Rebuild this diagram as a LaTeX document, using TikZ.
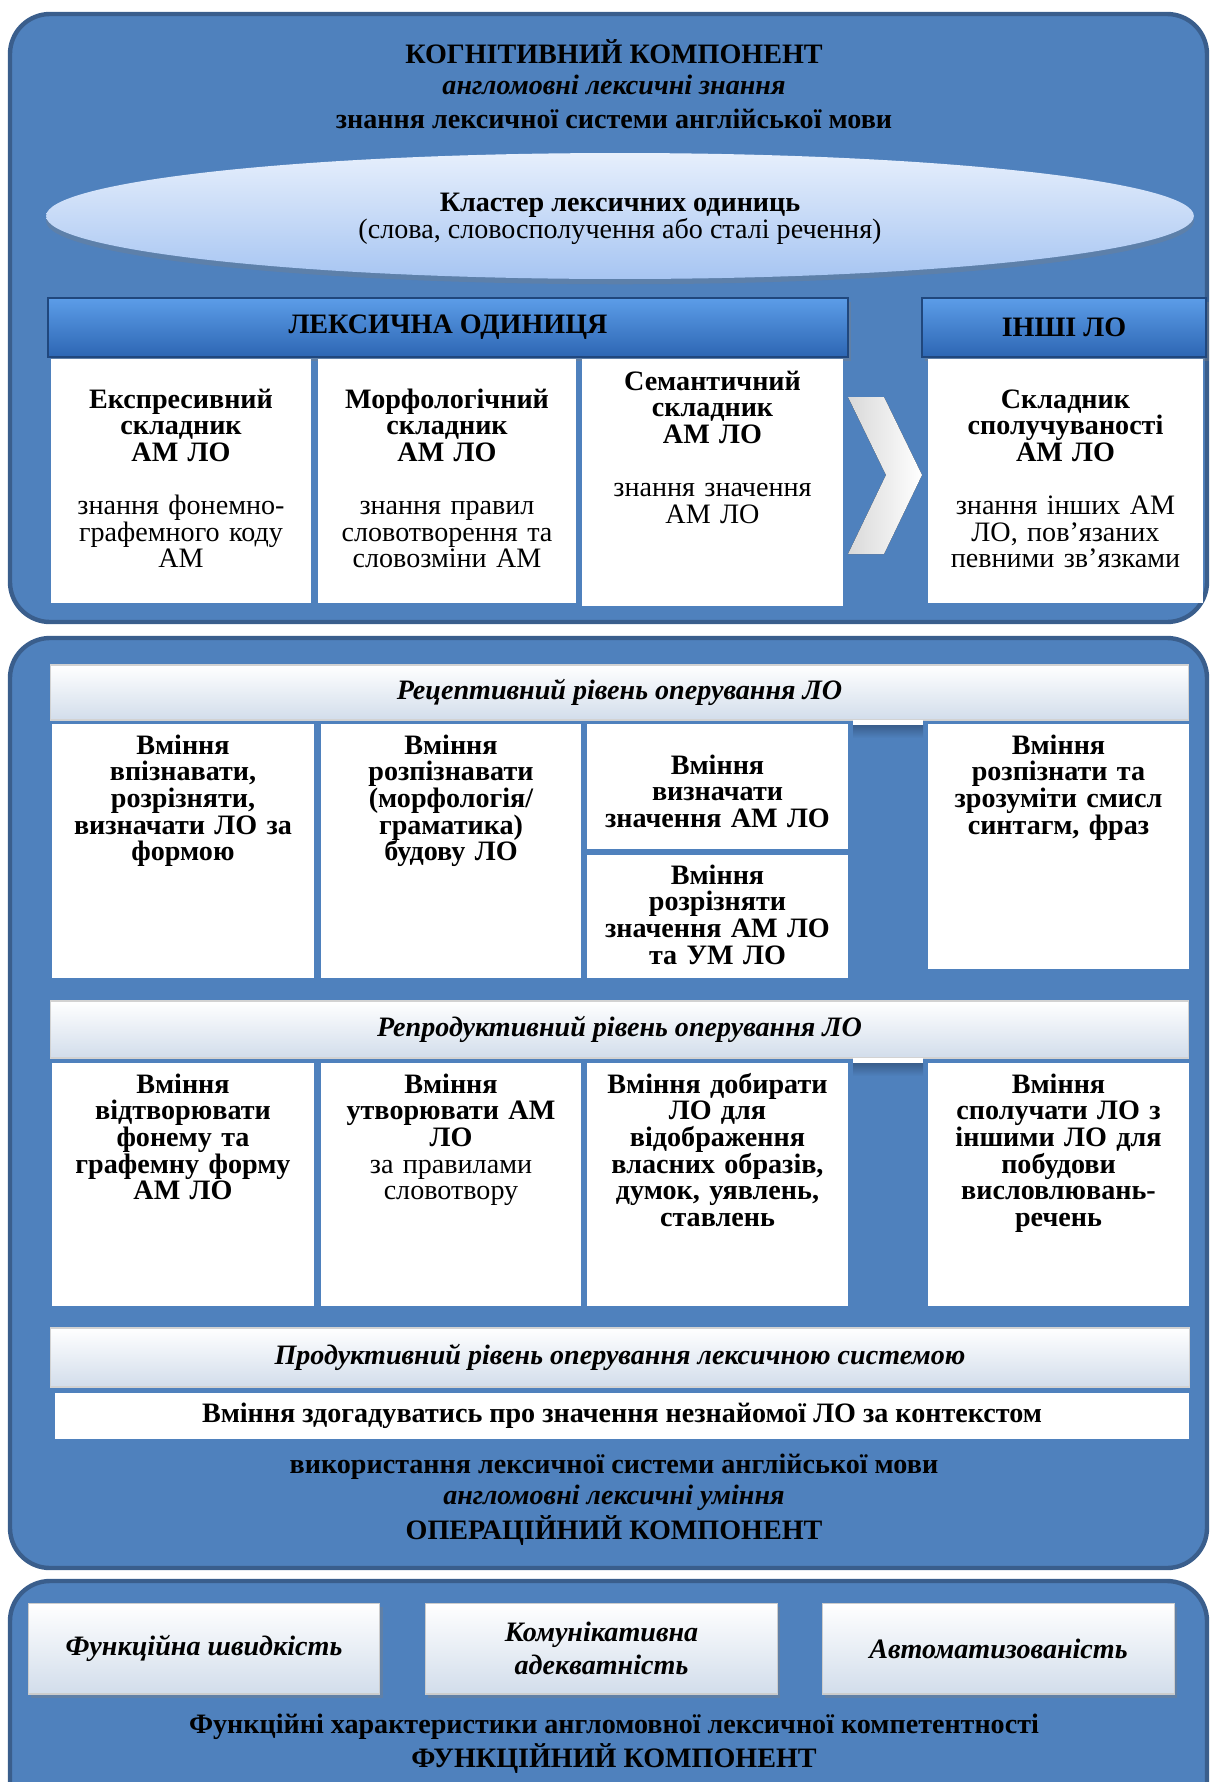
\documentclass[tikz,border=0pt]{standalone}
\usepackage{fontspec}
\setmainfont{Liberation Serif}
\usetikzlibrary{positioning,shapes.geometric,shadows}

\definecolor{panelblue}{HTML}{4F81BD}
\definecolor{paneledge}{HTML}{3A5E8C}
\definecolor{headtop}{HTML}{5C9DE8}
\definecolor{headbot}{HTML}{2D66B3}
\definecolor{barbot}{HTML}{D2DDEB}
\definecolor{elltop}{HTML}{E6EFFC}
\definecolor{ellbot}{HTML}{A7C5F2}
\newcommand{\bodysize}{\fontsize{16pt}{15.2pt}\selectfont}

\begin{document}
\begin{tikzpicture}[x=0.02cm,y=-0.02cm,
  panel/.style={fill=panelblue,draw=paneledge,line width=2.5pt,rounded corners=0.8cm},
  head/.style={draw=headbot!70!black,line width=0.8pt,top color=headtop,bottom color=headbot,
    font=\bodysize\bfseries,drop shadow={opacity=0.35,shadow xshift=1.5pt,shadow yshift=-2pt}},
  lightbar/.style={draw=gray!35,line width=0.6pt,top color=white,bottom color=barbot,
    font=\bodysize\bfseries\itshape,minimum width=22.78cm},
  cell/.style={fill=white,inner sep=0pt},
  celltext/.style={text width=5.4cm,align=center,inner sep=0pt,anchor=base,font=\bodysize\bfseries},
  caption/.style={font=\bodysize\bfseries,inner sep=0pt},
  feature/.style={draw=gray!40,line width=0.6pt,top color=white,bottom color=barbot,
    minimum width=7.04cm,minimum height=1.82cm,align=center,font=\bodysize\bfseries\itshape,
    drop shadow={opacity=0.35,shadow xshift=1.5pt,shadow yshift=-2pt}}]
\useasboundingbox (0,0) rectangle (1213,1782);
\clip (0,0) rectangle (1213,1782);

% panels
\draw[panel] (10,14) rectangle (1207,622);
\draw[panel] (10,638) rectangle (1207,1568);
\draw[panel] (10,1830) rectangle (1207,1581);

% cognitive component
\node[caption] (cogtitle) at (614,52) {КОГНІТИВНИЙ КОМПОНЕНТ};
\node[caption,font=\bodysize\bfseries\itshape] (cogknow) at (614,85) {англомовні лексичні знання};
\node[caption] (cogsys) at (614,119) {знання лексичної системи англійської мови};

\node[ellipse,top color=elltop,bottom color=ellbot,minimum width=22.96cm,minimum height=2.52cm,
  align=center,font=\bodysize,drop shadow={opacity=0.3,shadow xshift=0pt,shadow yshift=-3pt}]
  (cluster) at (620,216) {};
\node[align=center,font=\bodysize] (clustertxt) at (620,219) {\textbf{Кластер лексичних одиниць}\\(слова, словосполучення або сталі речення)};

\node[head,minimum width=16cm,minimum height=1.18cm] (lexunit) at (448,327.5) {ЛЕКСИЧНА ОДИНИЦЯ};
\node[head,minimum width=5.68cm,minimum height=1.18cm] (otherlu) at (1064,327.5) {ІНШІ ЛО};

\node[cell,minimum width=5.2cm,minimum height=4.88cm] (expr) at (181,481) {};
\node[cell,minimum width=5.16cm,minimum height=4.88cm] (morph) at (447,481) {};
\node[cell,minimum width=5.22cm,minimum height=4.94cm] (sem) at (712.5,482.5) {};
\node[cell,minimum width=5.5cm,minimum height=4.88cm] (comb) at (1065.5,481) {};

\node[celltext] (exprtxt) at (181,408) {Експресивний\\ складник\\ АМ ЛО\\[15pt]\mdseries знання фонемно-\\ графемного коду\\ АМ};
\node[celltext] (morphtxt) at (447,408) {Морфологічний\\ складник\\ АМ ЛО\\[15pt]\mdseries знання правил\\ словотворення та\\ словозміни АМ};
\node[celltext] (semtxt) at (712.5,390) {Семантичний\\ складник\\ АМ ЛО\\[15pt]\mdseries знання значення\\ АМ ЛО};
\node[celltext] (combtxt) at (1065.5,408) {Складник\\ сполучуваності\\ АМ ЛО\\[15pt]\mdseries знання інших АМ\\ ЛО, пов’язаних\\ певними зв’язками};

% chevron between the components
\fill[left color=gray!30,right color=white] (848,397) -- (884,397) -- (922,475) -- (884,554)
  -- (848,554) -- (886,475) -- cycle;

% operational component
\node[lightbar,minimum height=1.1cm] (recept) at (619.5,692.5) {Рецептивний рівень оперування ЛО};
\fill[white] (853,720) rectangle (923,725);
\shade[top color=paneledge,bottom color=panelblue] (853,725) rectangle (923,738);

\node[cell,minimum width=5.24cm,minimum height=5.08cm] (recog) at (183,851) {};
\node[cell,minimum width=5.2cm,minimum height=5.08cm] (struct) at (451,851) {};
\node[cell,minimum width=5.22cm,minimum height=2.5cm] (meaning) at (717.5,786.5) {};
\node[cell,minimum width=5.22cm,minimum height=2.46cm] (distinct) at (717.5,916.5) {};
\node[cell,minimum width=5.22cm,minimum height=4.9cm] (phrase) at (1058.5,846.5) {};

\node[celltext] (recogtxt) at (183,754) {Вміння\\ впізнавати,\\ розрізняти,\\ визначати ЛО за\\ формою};
\node[celltext] (structtxt) at (451,754) {Вміння\\ розпізнавати\\ (морфологія/\\ граматика)\\ будову ЛО};
\node[celltext] (meaningtxt) at (717.5,774) {Вміння\\ визначати\\ значення АМ ЛО};
\node[celltext] (distincttxt) at (717.5,884) {Вміння\\ розрізняти\\ значення АМ ЛО\\ та УМ ЛО};
\node[celltext] (phrasetxt) at (1058.5,754) {Вміння\\ розпізнати та\\ зрозуміти смисл\\ синтагм, фраз};

\node[lightbar,minimum height=1.14cm] (reprod) at (619.5,1029.5) {Репродуктивний рівень оперування ЛО};
\fill[white] (853,1058) rectangle (923,1063);
\shade[top color=paneledge,bottom color=panelblue] (853,1063) rectangle (923,1076);

\node[cell,minimum width=5.24cm,minimum height=4.86cm] (form) at (183,1184.5) {};
\node[cell,minimum width=5.2cm,minimum height=4.86cm] (wordform) at (451,1184.5) {};
\node[cell,minimum width=5.22cm,minimum height=4.86cm] (select) at (717.5,1184.5) {};
\node[cell,minimum width=5.22cm,minimum height=4.86cm] (combine) at (1058.5,1184.5) {};

\node[celltext] (formtxt) at (183,1093) {Вміння\\ відтворювати\\ фонему та\\ графемну форму\\ АМ ЛО};
\node[celltext] (wordformtxt) at (451,1093) {Вміння\\ утворювати АМ\\ ЛО\\ \mdseries за правилами\\ словотвору};
\node[celltext] (selecttxt) at (717.5,1093) {Вміння добирати\\ ЛО для\\ відображення\\ власних образів,\\ думок, уявлень,\\ ставлень};
\node[celltext] (combinetxt) at (1058.5,1093) {Вміння\\ сполучати ЛО з\\ іншими ЛО для\\ побудови\\ висловлювань-\\ речень};

\node[lightbar,minimum width=22.8cm,minimum height=1.18cm] (product) at (620,1357.5) {Продуктивний рівень оперування лексичною системою};
\node[cell,minimum width=22.68cm,minimum height=0.92cm,font=\bodysize\bfseries] (guess) at (622,1416)
  {Вміння здогадуватись про значення незнайомої ЛО за контекстом};

\node[caption] (opuse) at (614,1467) {використання лексичної системи англійської мови};
\node[caption,font=\bodysize\bfseries\itshape] (opskill) at (614,1498) {англомовні лексичні уміння};
\node[caption] (optitle) at (614,1531) {ОПЕРАЦІЙНИЙ КОМПОНЕНТ};

% functional component
\node[feature] (speed) at (204,1648.5) {Функційна швидкість};
\node[feature] (adequ) at (601.5,1648.5) {Комунікативна\\[4pt] адекватність};
\node[feature] (auto) at (998.5,1648.5) {Автоматизованість};

\node[caption] (funchar) at (614,1727) {Функційні характеристики англомовної лексичної компетентності};
\node[caption] (functitle) at (614,1759) {ФУНКЦІЙНИЙ КОМПОНЕНТ};
\end{tikzpicture}
\end{document}
